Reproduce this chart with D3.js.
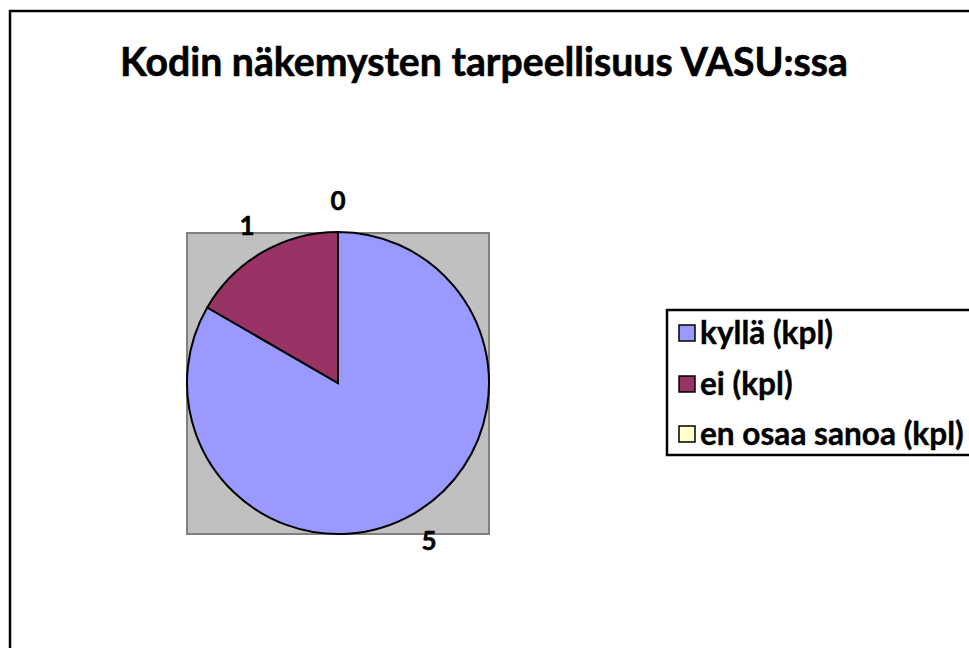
<!DOCTYPE html>
<html>
<head>
<meta charset="utf-8">
<script src="https://cdn.jsdelivr.net/npm/d3@7"></script>
<style>
  body { margin: 0; background: #fff; }
  svg text { font-family: Lato, "Open Sans", sans-serif; font-weight: bold; fill: #000; }
</style>
</head>
<body>
<svg id="chart" width="969" height="648"></svg>
<script>
var title = "Kodin näkemysten tarpeellisuus VASU:ssa";
var categories = ["kyllä (kpl)", "ei (kpl)", "en osaa sanoa (kpl)"];
var values = [5, 1, 0];
var colors = ["#9999ff", "#993366", "#ffffcc"];

var svg = d3.select("#chart"),
    width = +svg.attr("width"),
    height = +svg.attr("height");

// fit a text element to a measured width from the picture
function fit(sel, w) {
  var len = sel.node().getComputedTextLength();
  var fs = parseFloat(sel.attr("font-size"));
  sel.attr("font-size", fs * w / len);
}

// chart frame
svg.append("rect")
    .attr("x", 10).attr("y", 11)
    .attr("width", width + 20).attr("height", height + 20)
    .attr("fill", "#fff").attr("stroke", "#000").attr("stroke-width", 2.5);

var t = svg.append("text")
    .attr("x", 484).attr("y", 76)
    .attr("text-anchor", "middle")
    .attr("font-size", 34)
    .style("stroke", "#000").style("stroke-width", 0.6)
    .text(title);
fit(t, 728);

// plot area
var cx = 338, cy = 383, r = 151;
svg.append("rect")
    .attr("x", 187).attr("y", 233)
    .attr("width", 302).attr("height", 301)
    .attr("fill", "#c0c0c0").attr("stroke", "#808080").attr("stroke-width", 2);

var pie = d3.pie().sort(null).value(function(d) { return d; });
var arcs = pie(values);
var arc = d3.arc().innerRadius(0).outerRadius(r);
var labelArc = d3.arc().innerRadius(182).outerRadius(182);

var g = svg.append("g").attr("transform", "translate(" + cx + "," + cy + ")");
g.selectAll("path")
    .data(arcs)
  .enter().append("path")
    .attr("d", arc)
    .attr("fill", function(d, i) { return colors[i]; })
    .attr("stroke", "#000")
    .attr("stroke-width", 2);

g.selectAll("text")
    .data(arcs)
  .enter().append("text")
    .attr("transform", function(d) { return "translate(" + labelArc.centroid(d) + ")"; })
    .attr("text-anchor", "middle")
    .attr("dy", "0.36em")
    .attr("font-size", 26)
    .style("stroke", "#000").style("stroke-width", 0.5)
    .text(function(d) { return d.value; });

// legend
var lx = 667, ly = 310;
svg.append("rect")
    .attr("x", lx).attr("y", ly)
    .attr("width", 400).attr("height", 145)
    .attr("fill", "#fff").attr("stroke", "#000").attr("stroke-width", 2.5);

var rowY = [333, 384, 434];
var item = svg.selectAll("g.legend-item")
    .data(categories)
  .enter().append("g")
    .attr("class", "legend-item")
    .attr("transform", function(d, i) { return "translate(" + lx + "," + rowY[i] + ")"; });

item.append("rect")
    .attr("x", 12).attr("y", -8)
    .attr("width", 16).attr("height", 16)
    .attr("fill", function(d, i) { return colors[i]; })
    .attr("stroke", "#000").attr("stroke-width", 1.5);

item.append("text")
    .attr("x", 33)
    .attr("dy", "0.35em")
    .attr("font-size", 22)
    .style("stroke", "#000").style("stroke-width", 0.4)
    .text(function(d) { return d; });
fit(item.select("text").filter(function(d, i) { return i === 0; }), 133);
var lfs = item.select("text").filter(function(d, i) { return i === 0; }).attr("font-size");
item.selectAll("text").attr("font-size", lfs);
</script>
</body>
</html>
